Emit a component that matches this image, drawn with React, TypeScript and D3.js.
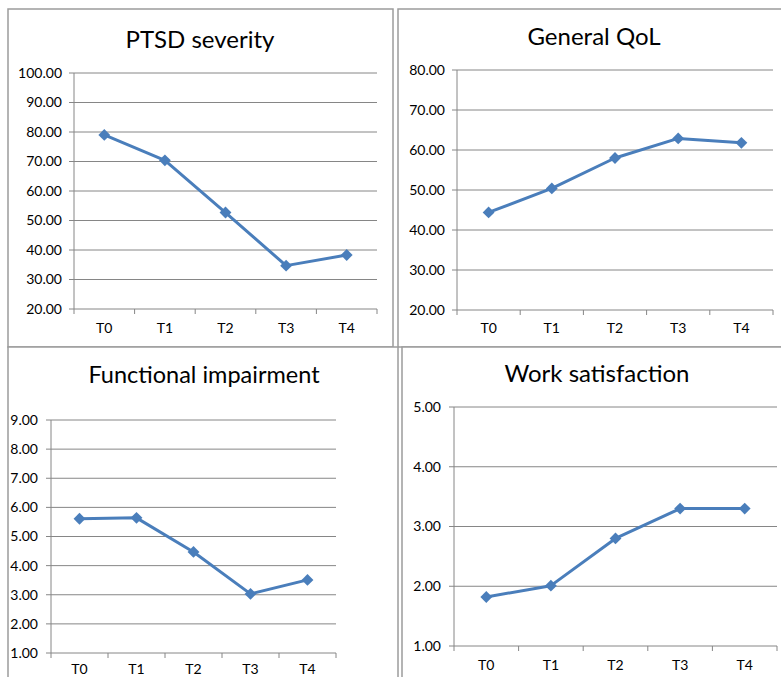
import * as d3 from "d3"

const categories = ["T0", "T1", "T2", "T3", "T4"]

const ptsdValues = [79.0, 70.4, 52.7, 34.7, 38.3]
const qolValues = [44.4, 50.4, 58.0, 62.9, 61.8]
const funcValues = [5.61, 5.64, 4.47, 3.03, 3.51]
const workValues = [1.82, 2.01, 2.8, 3.3, 3.3]

const ptsdTicks = [20, 30, 40, 50, 60, 70, 80, 90, 100]
const qolTicks = [20, 30, 40, 50, 60, 70, 80]
const funcTicks = [1, 2, 3, 4, 5, 6, 7, 8, 9]
const workTicks = [1, 2, 3, 4, 5]

const titles = ["PTSD severity", "General QoL", "Functional impairment", "Work satisfaction"]

// layout of the four excel-style chart boxes
const layout = [
    { frame: [8, 9, 393, 347], plot: [74, 377, 73, 309], titleX: 200, titleY: 48, titleSize: 24, labelGap: 12, xLabelY: 333 },
    { frame: [398, 9, 795, 347], plot: [457, 773, 70, 310], titleX: 594, titleY: 45, titleSize: 24, labelGap: 12, xLabelY: 333 },
    { frame: [8, 347, 398, 700], plot: [51, 336, 420, 653], titleX: 204, titleY: 383, titleSize: 23.5, labelGap: 13, xLabelY: 674 },
    { frame: [402, 347, 795, 700], plot: [454, 777, 407, 646], titleX: 597, titleY: 382, titleSize: 24, labelGap: 13, xLabelY: 670 },
]

const series = [ptsdValues, qolValues, funcValues, workValues]
const tickSets = [ptsdTicks, qolTicks, funcTicks, workTicks]

const FONT = "Lato, 'Open Sans', sans-serif"
const LINE = "#4a7ebb"
const GRID = "#868686"

function Panel({ idx }: { idx: number }) {
    const L = layout[idx]
    const values = series[idx]
    const ticks = tickSets[idx]
    const [fx0, fy0, fx1, fy1] = L.frame
    const [px0, px1, py0, py1] = L.plot

    const x = d3.scaleBand<string>().domain(categories).range([px0, px1]).padding(0)
    const y = d3.scaleLinear().domain([ticks[0], ticks[ticks.length - 1]]).range([py1, py0])

    const line = d3.line<number>()
        .x((_, i) => x(categories[i])! + x.bandwidth() / 2)
        .y((d) => y(d))

    const diamond = d3.symbol(d3.symbolSquare, 70)()!

    const bounds = [...categories.map((c) => x(c)!), px1]

    return (
        <g>
            <rect x={fx0} y={fy0} width={fx1 - fx0} height={fy1 - fy0} fill="#fff" stroke="#9c9c9c" strokeWidth={1.5} />
            <text x={L.titleX} y={L.titleY} textAnchor="middle" fontFamily={FONT} fontSize={L.titleSize} fill="#000">
                {titles[idx]}
            </text>
            {ticks.map((t) => (
                <g key={t}>
                    <line x1={px0 - 5} x2={px1} y1={y(t)} y2={y(t)} stroke={GRID} strokeWidth={1} />
                    <text x={px0 - L.labelGap} y={y(t)} dy="0.35em" textAnchor="end" fontFamily={FONT} fontSize={14} fill="#000">
                        {t.toFixed(2)}
                    </text>
                </g>
            ))}
            <line x1={px0} x2={px0} y1={py0} y2={py1} stroke={GRID} strokeWidth={1} />
            {bounds.map((b, i) => (
                <line key={i} x1={b} x2={b} y1={py1} y2={py1 + 5} stroke={GRID} strokeWidth={1} />
            ))}
            {categories.map((c) => (
                <text key={c} x={x(c)! + x.bandwidth() / 2} y={L.xLabelY} textAnchor="middle" fontFamily={FONT} fontSize={14} fill="#000">
                    {c}
                </text>
            ))}
            <path d={line(values)!} fill="none" stroke={LINE} strokeWidth={3} strokeLinejoin="round" />
            {values.map((v, i) => (
                <path
                    key={i}
                    d={diamond}
                    fill={LINE}
                    transform={`translate(${x(categories[i])! + x.bandwidth() / 2},${y(v)}) rotate(45)`}
                />
            ))}
        </g>
    )
}

export default function App() {
    return (
        <svg width={781} height={677} style={{ position: "absolute", left: 0, top: 0, background: "#fff" }}>
            <rect width={781} height={677} fill="#fff" />
            {layout.map((_, i) => (
                <Panel key={i} idx={i} />
            ))}
        </svg>
    )
}
